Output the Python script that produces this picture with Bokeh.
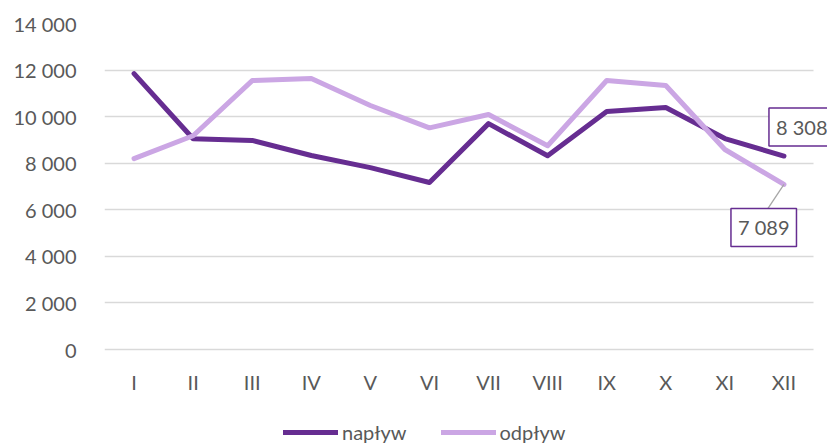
from bokeh.plotting import figure
from bokeh.models import Range1d, FixedTicker, Label, Legend, LegendItem, Segment, ColumnDataSource
from bokeh.core.properties import value
from bokeh.embed import file_html
from bokeh.resources import INLINE

months = ["I", "II", "III", "IV", "V", "VI", "VII", "VIII", "IX", "X", "XI", "XII"]
naplyw = [11850, 9050, 8980, 8330, 7810, 7170, 9700, 8320, 10220, 10390, 9060, 8308]
odplyw = [8200, 9180, 11550, 11640, 10480, 9520, 10090, 8750, 11550, 11340, 8590, 7089]
y_ticks = [0, 2000, 4000, 6000, 8000, 10000, 12000, 14000]
y_tick_labels = ["0", "2 000", "4 000", "6 000", "8 000", "10 000", "12 000", "14 000"]

DARK = "#662D91"
LIGHT = "#CBA6E4"
TXT = "#595959"
FONT = "Lato"
FS = "20px"

xs = list(range(len(months)))
x_lo, x_hi = -0.5, len(months) - 0.5
extra = 14 / 709 * (x_hi - x_lo)   # frame runs to the page edge so the label box is cut there
y_top = 14000
y_bottom = -y_top * 96 / 326       # room under the zero line for month labels and legend

p = figure(frame_width=723, frame_height=422, output_backend="svg", toolbar_location=None,
           x_axis_location=None,
           x_range=Range1d(x_lo, x_hi + extra), y_range=Range1d(y_bottom, y_top),
           min_border_left=104, min_border_right=0, min_border_top=23, min_border_bottom=0)
p.outline_line_color = None
p.background_fill_color = "white"

ax = p.yaxis[0]
ax.ticker = FixedTicker(ticks=y_ticks)
ax.major_label_overrides = {t: l for t, l in zip(y_ticks, y_tick_labels)}
ax.axis_line_color = None
ax.major_tick_line_color = None
ax.minor_tick_line_color = None
ax.major_label_text_color = TXT
ax.major_label_text_font = FONT
ax.major_label_text_font_size = FS
ax.major_label_standoff = 22

for grid in p.grid:
    if grid.dimension == 0:
        grid.grid_line_color = None
        grid.visible = False
    else:
        grid.ticker = FixedTicker(ticks=y_ticks)
        grid.grid_line_color = "#D9D9D9"
        grid.grid_line_width = 1.3
        if "cross_bounds" in grid.properties():
            grid.cross_bounds = (x_lo, x_hi)

# month labels under the zero line
p.text(x=xs, y=[0] * len(months), text=months, text_align="center", text_baseline="middle",
       y_offset=32, text_font=value(FONT), text_font_size=value(FS), text_color=TXT)

r1 = p.line(xs, naplyw, line_color=DARK, line_width=5, line_join="round", line_cap="round")
r2 = p.line(xs, odplyw, line_color=LIGHT, line_width=5, line_join="round", line_cap="round")

# leader line for the odpływ label
src = ColumnDataSource(dict(x0=[xs[-1]], y0=[odplyw[-1]], x1=[xs[-1] - 0.27], y1=[odplyw[-1] - 1030]))
p.add_glyph(src, Segment(x0="x0", y0="y0", x1="x1", y1="y1", line_color="#A6A6A6", line_width=1.3))

lab1 = Label(x=xs[-1], y=naplyw[-1], text="8 308", x_offset=-15, y_offset=10,
             text_font=FONT, text_font_size=FS, text_color=TXT,
             border_line_color=DARK, border_line_width=1.5, background_fill_color="white",
             padding=7)
lab2 = Label(x=xs[-1], y=odplyw[-1], text="7 089", x_offset=-53, y_offset=-62,
             text_font=FONT, text_font_size=FS, text_color=TXT,
             border_line_color=DARK, border_line_width=1.5, background_fill_color="white",
             padding=7)
p.add_layout(lab1)
p.add_layout(lab2)

legend = Legend(items=[LegendItem(label="napływ", renderers=[r1]),
                       LegendItem(label="odpływ", renderers=[r2])],
                orientation="horizontal", location=(179, 1),
                label_text_font=FONT, label_text_font_size=FS, label_text_color=TXT,
                glyph_width=55, glyph_height=22, label_height=22, label_standoff=4, spacing=34,
                border_line_color=None, background_fill_alpha=0, margin=0, padding=0)
p.add_layout(legend, "center")

open("out.html", "w").write(file_html(p, INLINE))
